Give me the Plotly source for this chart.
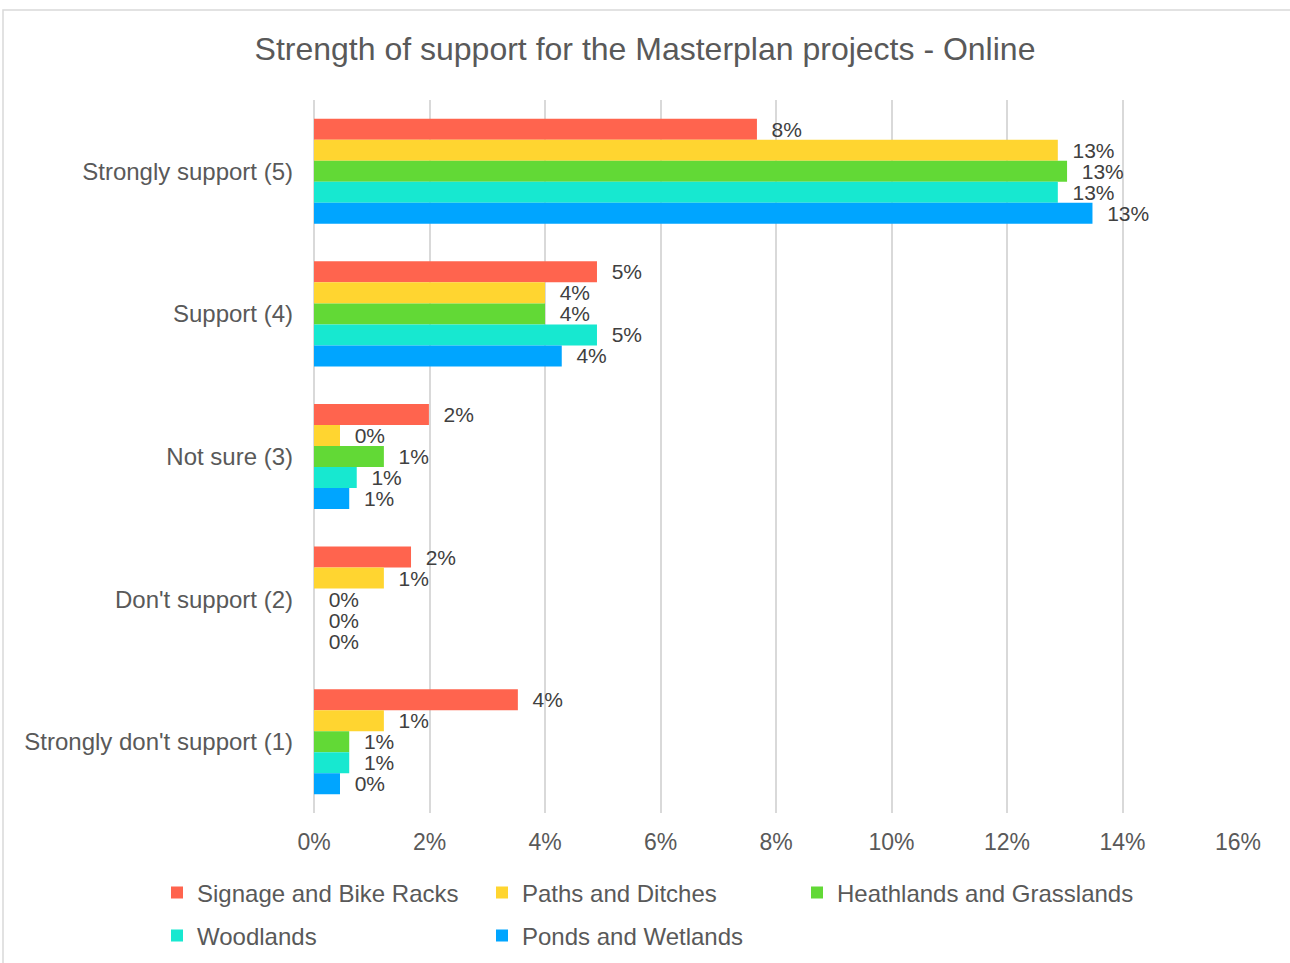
import plotly.graph_objects as go

# Survey response categories (top to bottom)
categories = [
    "Strongly support (5)",
    "Support (4)",
    "Not sure (3)",
    "Don't support (2)",
    "Strongly don't support (1)",
]

# Share of respondents per project (fractions)
signage = [0.0767, 0.0490, 0.0199, 0.0168, 0.0353]
paths = [0.1288, 0.0400, 0.0045, 0.0121, 0.0121]
heathlands = [0.1304, 0.0400, 0.0121, 0.0, 0.0061]
woodlands = [0.1288, 0.0490, 0.0074, 0.0, 0.0061]
ponds = [0.1348, 0.0429, 0.0061, 0.0, 0.0045]

series_names = [
    "Signage and Bike Racks",
    "Paths and Ditches",
    "Heathlands and Grasslands",
    "Woodlands",
    "Ponds and Wetlands",
]
series_values = [signage, paths, heathlands, woodlands, ponds]
series_colors = ["#FF644E", "#FFD530", "#62D936", "#17E8D0", "#00A5FF"]
# legend blocks: two columns on the left, third column on its own
legend_ids = ["legend", "legend", "legend3", "legend2", "legend2"]

x_ticks = [0, 0.02, 0.04, 0.06, 0.08, 0.10, 0.12, 0.14, 0.16]

FONT = "Liberation Sans"

fig = go.Figure()
for name, vals, color, lg in zip(series_names, series_values, series_colors, legend_ids):
    fig.add_trace(
        go.Bar(
            y=categories,
            x=vals,
            name=name,
            orientation="h",
            marker=dict(color=color, line=dict(width=0)),
            texttemplate="\u00a0\u00a0%{x:.0%}",
            textposition="outside",
            textfont=dict(family=FONT, size=21, color="#404040"),
            constraintext="none",
            cliponaxis=False,
            legend=lg,
        )
    )

legend_common = dict(
    orientation="h",
    xanchor="left",
    yanchor="middle",
    entrywidth=280,
    entrywidthmode="pixels",
    itemwidth=30,
    font=dict(family=FONT, size=24, color="#595959"),
    bgcolor="rgba(0,0,0,0)",
    traceorder="normal",
)
row1 = (813 - 893) / 713
row2 = (813 - 936) / 713

fig.update_layout(
    width=1290,
    height=963,
    margin=dict(l=314, r=52, t=100, b=150, autoexpand=False),
    paper_bgcolor="white",
    plot_bgcolor="white",
    barmode="group",
    bargap=0.263,
    bargroupgap=0,
    font=dict(family=FONT, color="#595959"),
    title=dict(
        text="Strength of support for the Masterplan projects - Online",
        x=0.5,
        xref="container",
        xanchor="center",
        y=1 - 49 / 963,
        yref="container",
        yanchor="middle",
        font=dict(family=FONT, size=32, color="#595959"),
    ),
    xaxis=dict(
        range=[0, 0.16],
        tickvals=x_ticks,
        tickformat=".0%",
        showgrid=True,
        gridcolor="#D9D9D9",
        gridwidth=2,
        zeroline=True,
        zerolinecolor="#D9D9D9",
        zerolinewidth=2,
        showline=False,
        ticks="",
        ticklabelstandoff=13,
        tickfont=dict(family=FONT, size=23, color="#595959"),
    ),
    yaxis=dict(
        autorange="reversed",
        showgrid=False,
        zeroline=False,
        showline=False,
        ticks="",
        ticklabelstandoff=20,
        tickfont=dict(family=FONT, size=24, color="#595959"),
    ),
    legend=dict(legend_common, x=(157 - 314) / 924, y=row1),
    legend2=dict(legend_common, x=(157 - 314) / 924, y=row2),
    legend3=dict(legend_common, x=(797 - 314) / 924, y=row1, entrywidth=420),
    shapes=[
        dict(
            type="rect",
            xref="paper",
            yref="paper",
            x0=(3 - 314) / 924,
            x1=1.6,
            y0=-0.6,
            y1=(813 - 10) / 713,
            line=dict(color="#D9D9D9", width=1.5),
            fillcolor="rgba(0,0,0,0)",
            layer="below",
        )
    ],
)

fig.write_html("out.html")
